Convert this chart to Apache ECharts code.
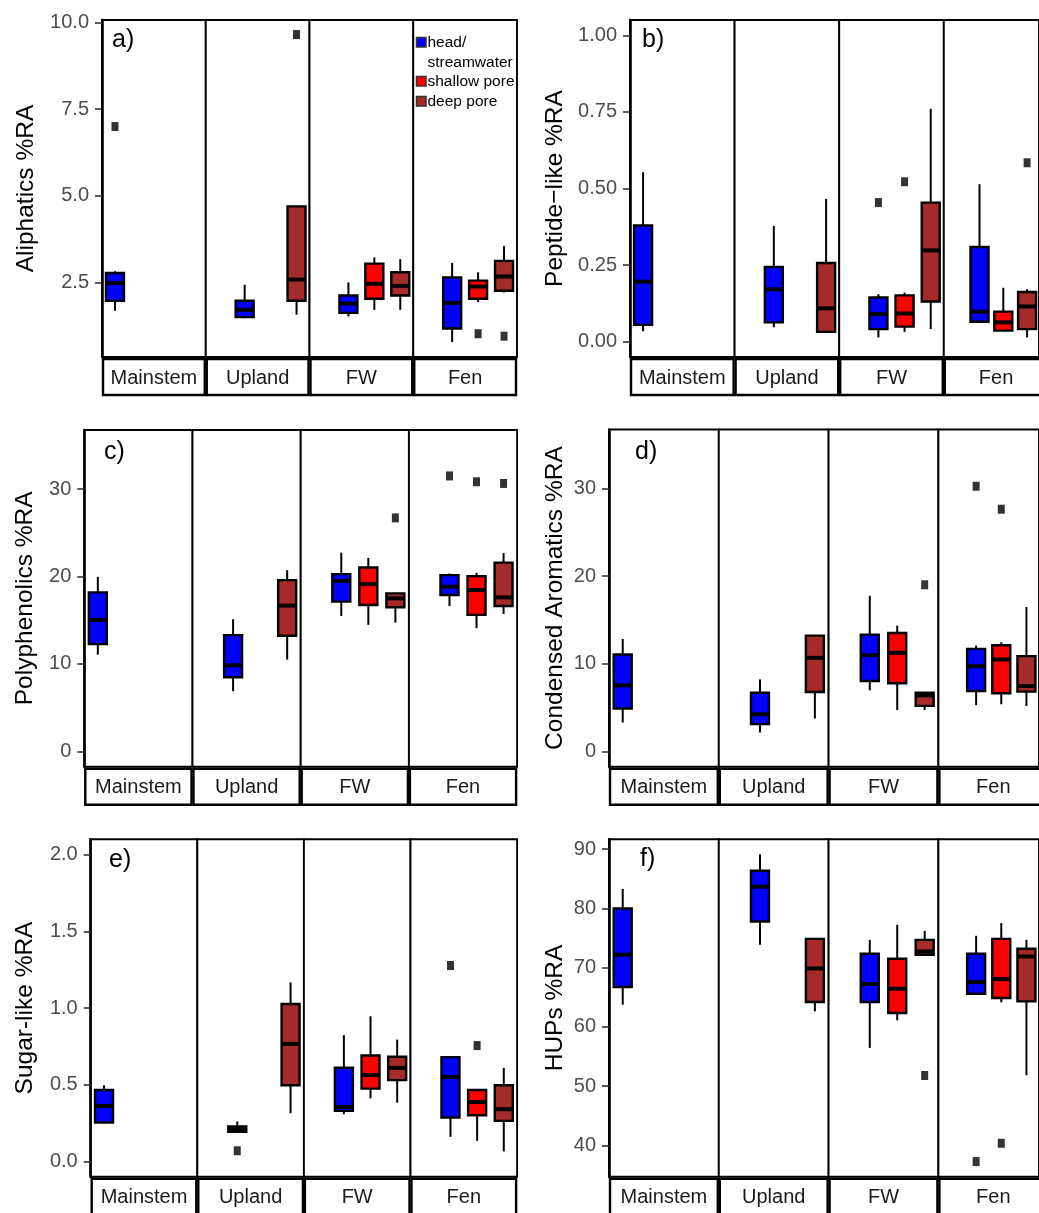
<!DOCTYPE html>
<html><head><meta charset="utf-8">
<script src="https://cdn.jsdelivr.net/npm/echarts@6/dist/echarts.min.js"></script>
<style>html,body{margin:0;padding:0;background:#fff}#c{width:1039px;height:1213px}</style>
</head><body><div id="c"></div>
<script>
// ---------- categories ----------
const facets = ['Mainstem', 'Upland', 'FW', 'Fen'];
const types = ['mainstem', 'head/streamwater', 'shallow pore', 'deep pore'];
const legendTypes = ['head/streamwater', 'shallow pore', 'deep pore'];
const typeColors = { 'mainstem': '#0000FF', 'head/streamwater': '#0000FF', 'shallow pore': '#FF0000', 'deep pore': '#A52A2A' };

// ---------- data: [facet, type, lowerWhisker, Q1, median, Q3, upperWhisker] ----------
const aliphaticsStats = [
  ['Mainstem', 'mainstem', 1.69, 1.98, 2.49, 2.78, 2.83],
  ['Upland', 'head/streamwater', 1.48, 1.51, 1.72, 1.98, 2.44],
  ['Upland', 'deep pore', 1.58, 1.98, 2.59, 4.70, 4.70],
  ['FW', 'head/streamwater', 1.53, 1.63, 1.90, 2.13, 2.51],
  ['FW', 'shallow pore', 1.72, 2.04, 2.47, 3.05, 3.23],
  ['FW', 'deep pore', 1.72, 2.13, 2.41, 2.80, 3.18],
  ['Fen', 'head/streamwater', 0.79, 1.18, 1.92, 2.65, 3.07],
  ['Fen', 'shallow pore', 1.94, 2.04, 2.39, 2.56, 2.80],
  ['Fen', 'deep pore', 2.22, 2.27, 2.68, 3.13, 3.56]
];
const aliphaticsOutliers = [['Mainstem', 'mainstem', 7.0], ['Upland', 'deep pore', 9.65], ['Fen', 'shallow pore', 1.03], ['Fen', 'deep pore', 0.96]];
const aliphaticsTicks = [2.5, 5.0, 7.5, 10.0];

const peptideStats = [
  ['Mainstem', 'mainstem', 0.034, 0.055, 0.196, 0.379, 0.553],
  ['Upland', 'head/streamwater', 0.047, 0.063, 0.171, 0.244, 0.378],
  ['Upland', 'deep pore', 0.032, 0.032, 0.109, 0.257, 0.466],
  ['FW', 'head/streamwater', 0.014, 0.041, 0.090, 0.144, 0.155],
  ['FW', 'shallow pore', 0.032, 0.049, 0.092, 0.151, 0.160],
  ['FW', 'deep pore', 0.041, 0.131, 0.298, 0.454, 0.760],
  ['Fen', 'head/streamwater', 0.062, 0.065, 0.098, 0.309, 0.514],
  ['Fen', 'shallow pore', 0.033, 0.036, 0.063, 0.098, 0.176],
  ['Fen', 'deep pore', 0.014, 0.041, 0.115, 0.162, 0.171]
];
const peptideOutliers = [['FW', 'head/streamwater', 0.454], ['FW', 'shallow pore', 0.522], ['Fen', 'deep pore', 0.584]];
const peptideTicks = [0, 0.25, 0.5, 0.75, 1.0];

const polyphenolicsStats = [
  ['Mainstem', 'mainstem', 11.06, 12.27, 15.04, 18.18, 19.96],
  ['Upland', 'head/streamwater', 6.89, 8.48, 9.85, 13.30, 15.11],
  ['Upland', 'deep pore', 10.49, 13.22, 16.67, 19.58, 20.72],
  ['FW', 'head/streamwater', 15.49, 17.12, 19.51, 20.27, 22.73],
  ['FW', 'shallow pore', 14.47, 16.74, 19.13, 21.02, 22.12],
  ['FW', 'deep pore', 14.73, 16.48, 17.50, 18.07, 18.14],
  ['Fen', 'head/streamwater', 16.63, 17.88, 18.83, 20.15, 20.34],
  ['Fen', 'shallow pore', 14.09, 15.61, 18.45, 20.04, 20.42],
  ['Fen', 'deep pore', 15.72, 16.63, 17.61, 21.59, 22.69]
];
const polyphenolicsOutliers = [['FW', 'deep pore', 26.7], ['Fen', 'head/streamwater', 31.5], ['Fen', 'shallow pore', 30.83], ['Fen', 'deep pore', 30.64]];
const polyphenolicsTicks = [0, 10, 20, 30];

const condensedStats = [
  ['Mainstem', 'mainstem', 3.30, 4.89, 7.54, 11.06, 12.84],
  ['Upland', 'head/streamwater', 2.16, 3.11, 4.24, 6.70, 8.22],
  ['Upland', 'deep pore', 3.75, 6.78, 10.68, 13.22, 13.22],
  ['FW', 'head/streamwater', 6.97, 8.03, 10.98, 13.33, 17.77],
  ['FW', 'shallow pore', 4.73, 7.77, 11.25, 13.52, 14.36],
  ['FW', 'deep pore', 4.73, 5.19, 6.40, 6.70, 6.70],
  ['Fen', 'head/streamwater', 5.27, 6.89, 9.73, 11.70, 12.08],
  ['Fen', 'shallow pore', 5.38, 6.63, 10.49, 12.12, 12.46],
  ['Fen', 'deep pore', 5.19, 6.82, 7.46, 10.87, 16.48]
];
const condensedOutliers = [['FW', 'deep pore', 19.02], ['Fen', 'head/streamwater', 30.27], ['Fen', 'shallow pore', 27.65]];
const condensedTicks = [0, 10, 20, 30];

const sugarStats = [
  ['Mainstem', 'mainstem', 0.247, 0.253, 0.361, 0.465, 0.496],
  ['Upland', 'head/streamwater', 0.193, 0.193, 0.210, 0.227, 0.260],
  ['Upland', 'deep pore', 0.314, 0.496, 0.766, 1.026, 1.167],
  ['FW', 'head/streamwater', 0.307, 0.329, 0.355, 0.610, 0.823],
  ['FW', 'shallow pore', 0.411, 0.474, 0.563, 0.690, 0.946],
  ['FW', 'deep pore', 0.383, 0.530, 0.610, 0.682, 0.794],
  ['Fen', 'head/streamwater', 0.160, 0.286, 0.550, 0.680, 0.680],
  ['Fen', 'shallow pore', 0.134, 0.301, 0.387, 0.465, 0.465],
  ['Fen', 'deep pore', 0.065, 0.264, 0.340, 0.496, 0.610]
];
const sugarOutliers = [['Upland', 'head/streamwater', 0.069], ['Fen', 'head/streamwater', 1.277], ['Fen', 'shallow pore', 0.755]];
const sugarTicks = [0, 0.5, 1.0, 1.5, 2.0];

const hupsStats = [
  ['Mainstem', 'mainstem', 63.74, 66.71, 72.16, 79.96, 83.27],
  ['Upland', 'head/streamwater', 73.84, 77.77, 83.66, 86.35, 89.10],
  ['Upland', 'deep pore', 62.62, 64.19, 69.85, 74.85, 74.85],
  ['FW', 'head/streamwater', 56.44, 64.19, 67.22, 72.32, 74.68],
  ['FW', 'shallow pore', 61.10, 62.33, 66.43, 71.48, 77.21],
  ['FW', 'deep pore', 72.16, 72.16, 72.72, 74.68, 76.20],
  ['Fen', 'head/streamwater', 65.42, 65.59, 67.55, 72.32, 75.36],
  ['Fen', 'shallow pore', 64.13, 64.86, 68.06, 74.85, 77.50],
  ['Fen', 'deep pore', 51.84, 64.30, 71.87, 73.17, 74.68]
];
const hupsOutliers = [['FW', 'deep pore', 51.78], ['Fen', 'head/streamwater', 37.25], ['Fen', 'shallow pore', 40.34]];
const hupsTicks = [40, 50, 60, 70, 80, 90];

// ---------- layout ----------
const FONT = '"Liberation Sans", Arial, Helvetica, sans-serif';
const BOX_W = 18;
const panels = [
  { label: 'a)', name: 'Aliphatics %RA', stats: aliphaticsStats, outliers: aliphaticsOutliers, ticks: aliphaticsTicks, dec: 1,
    left: 102, top: 20, bottom: 357, fw: 103.75, min: 0.36, max: 10.07, nameGap: 63.5, lx: 112, ly: 40.5 },
  { label: 'b)', name: 'Peptide\u2212like %RA', stats: peptideStats, outliers: peptideOutliers, ticks: peptideTicks, dec: 2,
    left: 630, top: 20, bottom: 357, fw: 104.6, min: -0.05, max: 1.05, nameGap: 62.5, lx: 642, ly: 40 },
  { label: 'c)', name: 'Polyphenolics %RA', stats: polyphenolicsStats, outliers: polyphenolicsOutliers, ticks: polyphenolicsTicks, dec: 0,
    left: 84.3, top: 430, bottom: 766.7, fw: 108.2, min: -1.75, max: 36.75, nameGap: 46.8, lx: 104, ly: 452.5 },
  { label: 'd)', name: 'Condensed Aromatics %RA', stats: condensedStats, outliers: condensedOutliers, ticks: condensedTicks, dec: 0,
    left: 609, top: 429.5, bottom: 766.7, fw: 109.8, min: -1.75, max: 36.75, nameGap: 41.5, lx: 635, ly: 452.5 },
  { label: 'e)', name: 'Sugar-like %RA', stats: sugarStats, outliers: sugarOutliers, ticks: sugarTicks, dec: 1,
    left: 90.7, top: 839.3, bottom: 1176.7, fw: 106.6, min: -0.1, max: 2.1, nameGap: 53.2, lx: 109, ly: 860.5 },
  { label: 'f)', name: 'HUPs %RA', stats: hupsStats, outliers: hupsOutliers, ticks: hupsTicks, dec: 0,
    left: 609, top: 839.3, bottom: 1176.7, fw: 109.8, min: 34.7, max: 91.65, nameGap: 41.5, lx: 640, ly: 859 }
];

const grid = [], xAxis = [], yAxis = [], series = [], graphic = [];
let gi = 0;
panels.forEach(p => {
  facets.forEach((fac, f) => {
    const gl = p.left + f * p.fw;
    grid.push({ left: gl, top: p.top, width: p.fw, height: p.bottom - p.top, show: true,
      borderColor: '#000', borderWidth: 1.9, backgroundColor: '#fff' });
    xAxis.push({ gridIndex: gi, type: 'category', data: types, boundaryGap: true, show: false });
    const first = f === 0;
    yAxis.push({
      gridIndex: gi, type: 'value', min: p.min, max: p.max, show: first,
      splitLine: { show: false },
      axisLine: { show: first, lineStyle: { color: '#000', width: 2.6 } },
      axisTick: { show: first, length: 7, lineStyle: { color: '#333', width: 1.6 }, customValues: p.ticks },
      axisLabel: { show: first, customValues: p.ticks, formatter: v => Number(v).toFixed(p.dec),
        color: '#4D4D4D', fontSize: 20, fontFamily: FONT, margin: 13 },
      name: first ? p.name : '', nameLocation: 'middle', nameGap: p.nameGap,
      nameTextStyle: { color: '#000', fontSize: 24.5, fontFamily: FONT }
    });
    const rows = p.stats.filter(r => r[0] === fac);
    series.push({
      type: 'custom', xAxisIndex: gi, yAxisIndex: gi,
      name: fac,
      data: rows.map(r => [r[1], r[2], r[3], r[4], r[5], r[6]]),
      encode: { x: 0, y: [1, 2, 3, 4, 5] },
      renderItem: (params, api) => {
        const xi = api.value(0);
        const lo = api.coord([xi, api.value(1)]);
        const q1 = api.coord([xi, api.value(2)]);
        const md = api.coord([xi, api.value(3)]);
        const q3 = api.coord([xi, api.value(4)]);
        const hi = api.coord([xi, api.value(5)]);
        const x = lo[0], hw = BOX_W / 2;
        const col = typeColors[rows[params.dataIndex][1]];
        return { type: 'group', children: [
          { type: 'line', shape: { x1: x, y1: hi[1], x2: x, y2: q3[1] }, style: { stroke: '#000', lineWidth: 2 } },
          { type: 'line', shape: { x1: x, y1: q1[1], x2: x, y2: lo[1] }, style: { stroke: '#000', lineWidth: 2 } },
          { type: 'rect', shape: { x: x - hw, y: q3[1], width: 2 * hw, height: Math.max(q1[1] - q3[1], 0.5) },
            style: { fill: col, stroke: '#000', lineWidth: 2.4 } },
          { type: 'line', shape: { x1: x - hw, y1: md[1], x2: x + hw, y2: md[1] }, style: { stroke: '#000', lineWidth: 4 } }
        ] };
      },
      silent: true, animation: false
    });
    const outs = p.outliers.filter(r => r[0] === fac);
    series.push({
      type: 'scatter', xAxisIndex: gi, yAxisIndex: gi, name: fac + ' outliers',
      data: outs.map(r => [r[1], r[2]]),
      symbol: 'rect', symbolSize: [7, 9], itemStyle: { color: '#000' },
      silent: true, animation: false
    });
    // strip
    graphic.push({ type: 'rect', shape: { x: gl + 1, y: p.bottom + 2, width: p.fw - 2, height: 36 },
      style: { fill: '#fff', stroke: '#000', lineWidth: 2.4 }, z: 10 });
    graphic.push({ type: 'text', x: gl + p.fw / 2, y: p.bottom + 21,
      style: { text: fac, fontSize: 20, fontFamily: FONT, fill: '#1A1A1A', align: 'center', verticalAlign: 'middle' }, z: 11 });
    gi++;
  });
  graphic.push({ type: 'text', x: p.lx, y: p.ly,
    style: { text: p.label, fontSize: 25, fontFamily: FONT, fill: '#000', align: 'left', verticalAlign: 'middle' }, z: 11 });
});

// legend (inside panel a, Fen facet)
const legendLabels = { 'head/streamwater': 'head/\nstreamwater', 'shallow pore': 'shallow pore', 'deep pore': 'deep pore' };
const legendKeyY = [37.5, 76.5, 96.5];
legendTypes.forEach((t, i) => {
  graphic.push({ type: 'rect', shape: { x: 416.5, y: legendKeyY[i], width: 9.5, height: 9.5 },
    style: { fill: typeColors[t], stroke: '#333', lineWidth: 1.5 }, z: 12 });
  graphic.push({ type: 'text', x: 427.5, y: legendKeyY[i] + 5,
    style: { text: legendLabels[t], fontSize: 15.5, lineHeight: 19.5, fontFamily: FONT, fill: '#000',
      align: 'left', verticalAlign: i === 0 ? 'top' : 'middle', y: i === 0 ? -9.5 : 0 }, z: 12 });
});

const chart = echarts.init(document.getElementById('c'), null, { renderer: 'canvas' });
chart.setOption({
  animation: false,
  backgroundColor: '#fff',
  textStyle: { fontFamily: FONT },
  grid, xAxis, yAxis, series, graphic
});
</script></body></html>
